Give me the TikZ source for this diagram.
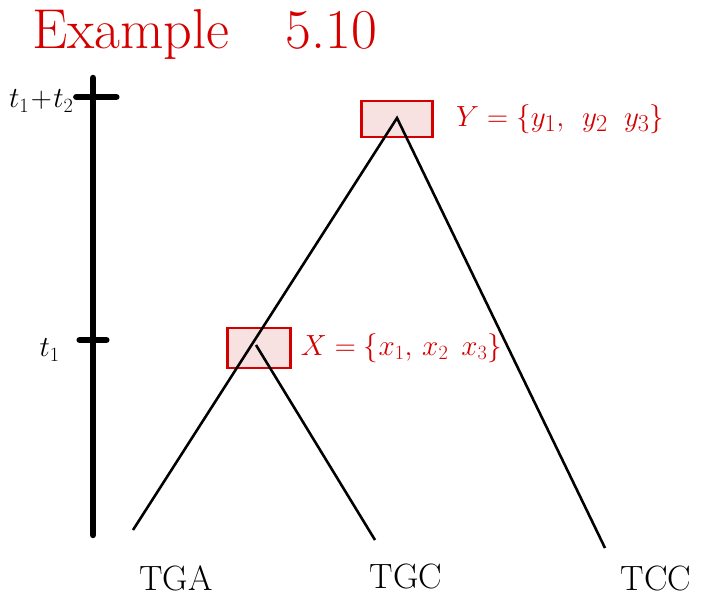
\documentclass[tikz,border=0pt]{standalone}
\usepackage{xcolor}
\usepackage{tikz}
\usetikzlibrary{positioning}
\definecolor{inkred}{HTML}{D40000}
\definecolor{boxpink}{HTML}{F8E1E1}

\tikzset{
  setbox/.style={draw=inkred, fill=boxpink, line width=2pt},
  branch/.style={line width=2.2pt},
  setlabel/.style={text=inkred, anchor=west, font=\fontsize{26}{30}\selectfont},
  leaflabel/.style={font=\fontsize{30}{34}\selectfont},
  timelabel/.style={anchor=east, font=\fontsize{26}{30}\selectfont}
}

\begin{document}
\begin{tikzpicture}[x=0.03cm, y=-0.03cm]
  \useasboundingbox (0,0) rectangle (711,601);
  % title
  \node[text=inkred, anchor=west, font=\fontsize{48}{52}\selectfont] (title) at (28,34) {Example\quad 5.10};
  % time axis
  \coordinate (axtop) at (93,78);
  \coordinate (axbot) at (93,535);
  \draw[line width=5.5pt, line cap=round] (axtop) -- (axbot);
  \coordinate (tickA) at (93,97);
  \coordinate (tickB) at (93,340);
  \draw[line width=5.5pt, line cap=round] ([xshift=-0.5cm]tickA) -- ([xshift=0.7cm]tickA);
  \draw[line width=5.5pt, line cap=round] ([xshift=-0.4cm]tickB) -- ([xshift=0.4cm]tickB);
  \node[timelabel, inner sep=1pt] (tsum) at (75,101) {$t_1\!+\!t_2$};
  \node[timelabel] (tone) at (64,350) {$t_1$};
  % ancestral sets
  \node[setbox, minimum width=2.13cm, minimum height=1.08cm] (ybox) at (397,119) {};
  \node[setbox, minimum width=1.89cm, minimum height=1.2cm] (xbox) at (259,348) {};
  \node[setlabel, right=0.55cm of ybox, font=\fontsize{28}{32}\selectfont] (ylab) {$Y = \{y_1,\;\, y_2\;\; y_3\}$};
  \node[setlabel, right=0.15cm of xbox] (xlab) {$X = \{x_1,\, x_2\;\, x_3\}$};
  % tree
  \coordinate (root) at (397,118);
  \coordinate (anc) at (256,345);
  \coordinate (tga) at (133,530);
  \coordinate (tgc) at (375,540);
  \coordinate (tcc) at (605,548);
  \draw[branch] (tga) -- (root) -- (tcc);
  \draw[branch] (anc) -- (tgc);
  \node[leaflabel] (tgalab) at (176,578) {TGA};
  \node[leaflabel] (tgclab) at (406,576) {TGC};
  \node[leaflabel] (tcclab) at (656,578) {TCC};
\end{tikzpicture}
\end{document}
